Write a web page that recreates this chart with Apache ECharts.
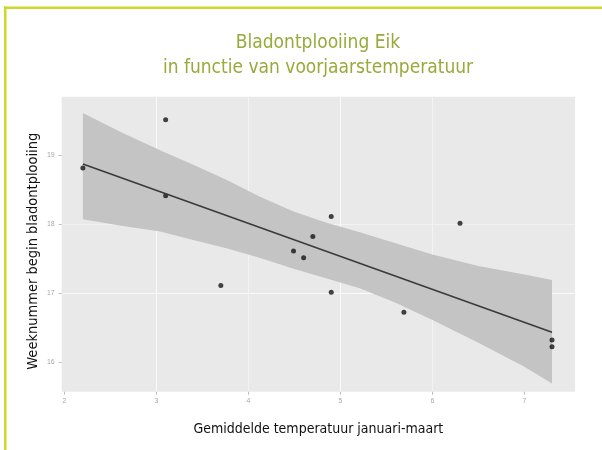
<!DOCTYPE html>
<html>
<head>
<meta charset="utf-8">
<title>Bladontplooiing Eik</title>
<script src="https://cdn.jsdelivr.net/npm/echarts@6/dist/echarts.min.js"></script>
<style>
  html, body { margin: 0; padding: 0; background: #fff; }
  #chart { width: 602px; height: 450px; }
</style>
</head>
<body>
<div id="chart"></div>
<script>
// gemeten punten: temperatuur jan-maart vs weeknummer bladontplooiing
var temperatuur = [2.20, 3.10, 3.10, 3.70, 4.49, 4.60, 4.70, 4.90, 4.90, 5.69, 6.30, 7.30, 7.30];
var weeknummer  = [18.81, 19.51, 18.41, 17.11, 17.61, 17.51, 17.82, 18.11, 17.01, 16.72, 18.01, 16.32, 16.22];

var lijnX = [2.20, 7.30];
var lijnY = [18.87, 16.43];

var bandX     = [2.20, 2.60, 3.04, 3.40, 3.76, 4.12, 4.49, 4.85, 5.21, 5.60, 6.00, 6.50, 7.00, 7.30];
var bandBoven = [19.61, 19.34, 19.07, 18.86, 18.64, 18.40, 18.18, 18.02, 17.88, 17.72, 17.56, 17.39, 17.27, 17.19];
var bandOnder = [18.07, 17.98, 17.89, 17.77, 17.65, 17.51, 17.35, 17.21, 17.07, 16.86, 16.61, 16.28, 15.93, 15.69];

var xTicks = [2, 3, 4, 5, 6, 7];
var yTicks = [16, 17, 18, 19];

var font = "'Liberation Sans Narrow', 'DejaVu Sans Condensed', 'Open Sans', sans-serif";

function pairs(xs, ys) {
    return xs.map(function (x, i) { return [x, ys[i]]; });
}

// band als polygoon: bovenrand heen, onderrand terug
function renderBand(params, api) {
    var pts = [];
    for (var i = 0; i < bandX.length; i++) {
        pts.push(api.coord([bandX[i], bandBoven[i]]));
    }
    for (var j = bandX.length - 1; j >= 0; j--) {
        pts.push(api.coord([bandX[j], bandOnder[j]]));
    }
    return {
        type: 'polygon',
        shape: { points: pts },
        style: { fill: '#c4c4c4' }
    };
}

var chart = echarts.init(document.getElementById('chart'));
var option = {
    backgroundColor: '#ffffff',
    animation: false,
    title: {
        text: 'Bladontplooiing Eik\nin functie van voorjaarstemperatuur',
        left: 318,
        top: 31,
        padding: 0,
        textAlign: 'center',
        textStyle: {
            color: '#96ab3a',
            fontFamily: font,
            fontWeight: 'normal',
            fontSize: 19,
            lineHeight: 25
        }
    },
    graphic: [
        { type: 'rect', shape: { x: 4, y: 6.5, width: 598, height: 2.5 }, style: { fill: '#cdda2c' } },
        { type: 'rect', shape: { x: 4, y: 6.5, width: 2.5, height: 444 }, style: { fill: '#cdda2c' } }
    ],
    grid: {
        left: 61.7,
        top: 96.7,
        right: 27,
        bottom: 58.3,
        show: true,
        backgroundColor: '#e9e9e9',
        borderWidth: 0
    },
    xAxis: {
        type: 'value',
        min: 1.97,
        max: 7.55,
        splitNumber: 11,
        name: 'Gemiddelde temperatuur januari-maart',
        nameLocation: 'middle',
        nameGap: 31,
        nameMoveOverlap: false,
        nameTextStyle: { color: '#111', fontFamily: font, fontSize: 14 },
        axisLine: { show: false },
        axisTick: { show: true, customValues: xTicks, length: 3, lineStyle: { color: '#bdbdbd' } },
        axisLabel: {
            customValues: xTicks,
            margin: 6,
            color: '#a8a8a8',
            fontSize: 7,
            formatter: function (v) { return xTicks.indexOf(v) >= 0 ? String(v) : ''; }
        },
        splitLine: {
            show: true,
            showMinLine: false,
            showMaxLine: false,
            lineStyle: { color: ['#fafafa', '#f3f3f3'], width: 1 }
        }
    },
    yAxis: {
        type: 'value',
        min: 15.57,
        max: 19.845,
        splitNumber: 9,
        name: 'Weeknummer begin bladontplooiing',
        nameLocation: 'middle',
        nameGap: 21,
        nameMoveOverlap: false,
        nameTextStyle: { color: '#111', fontFamily: font, fontSize: 14.5, padding: [0, 14, 0, 0] },
        axisLine: { show: false },
        axisTick: { show: true, customValues: yTicks, length: 3, lineStyle: { color: '#bdbdbd' } },
        axisLabel: {
            customValues: yTicks,
            margin: 7,
            color: '#a8a8a8',
            fontSize: 7,
            formatter: function (v) { return yTicks.indexOf(v) >= 0 ? String(v) : ''; }
        },
        splitLine: {
            show: true,
            showMinLine: false,
            showMaxLine: false,
            lineStyle: { color: ['#fafafa', '#f3f3f3'], width: 1 }
        }
    },
    series: [
        {
            name: 'band',
            type: 'custom',
            renderItem: renderBand,
            data: [bandX[0]],
            encode: { x: 0 },
            silent: true
        },
        {
            name: 'regressie',
            type: 'line',
            data: pairs(lijnX, lijnY),
            symbol: 'none',
            lineStyle: { color: '#3a3a3a', width: 1.6 }
        },
        {
            name: 'metingen',
            type: 'scatter',
            data: pairs(temperatuur, weeknummer),
            symbolSize: 5,
            itemStyle: { color: '#151515' }
        }
    ]
};
chart.setOption(option);
</script>
</body>
</html>
